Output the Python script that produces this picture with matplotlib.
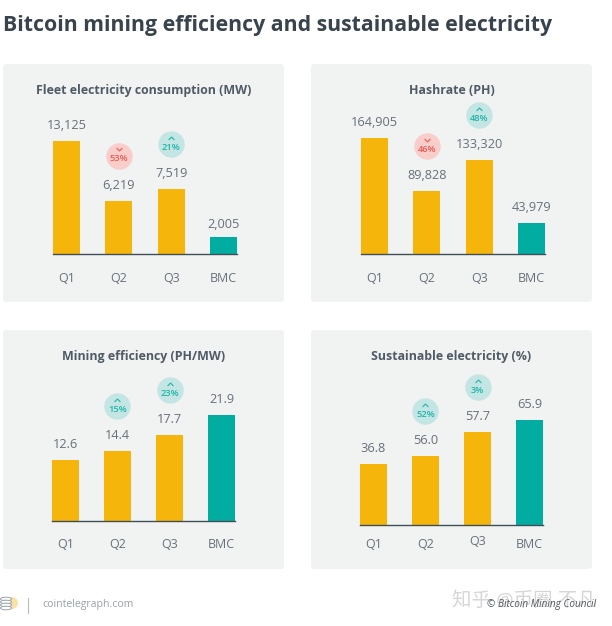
import matplotlib
matplotlib.use('Agg')
import matplotlib.pyplot as plt
from matplotlib.patches import FancyBboxPatch, Circle, Ellipse
from matplotlib.path import Path
from matplotlib.transforms import offset_copy, ScaledTranslation

plt.rcParams['font.family'] = ['Open Sans', 'Noto Sans CJK SC', 'DejaVu Sans']

W, H = 612, 626

categories = ['Q1', 'Q2', 'Q3', 'BMC']

fleet_values = [13125, 6219, 7519, 2005]
fleet_labels = ['13,125', '6,219', '7,519', '2,005']
fleet_changes = [None, '53%', '21%', None]
fleet_dirs = [None, 'down', 'up', None]

hash_values = [164905, 89828, 133320, 43979]
hash_labels = ['164,905', '89,828', '133,320', '43,979']
hash_changes = [None, '46%', '48%', None]
hash_dirs = [None, 'down', 'up', None]

eff_values = [12.6, 14.4, 17.7, 21.9]
eff_labels = ['12.6', '14.4', '17.7', '21.9']
eff_changes = [None, '15%', '23%', None]
eff_dirs = [None, 'up', 'up', None]

# the published bars here are not to scale with their labels, heights read off the picture
sust_values = [38.3, 43.3, 58.4, 65.9]
sust_labels = ['36.8', '56.0', '57.7', '65.9']
sust_changes = [None, '52%', '3%', None]
sust_dirs = [None, 'up', 'up', None]

YELLOW = '#f5b50a'
TEAL = '#00ada0'
PANEL = '#f1f2f2'
TITLE_C = '#4f5b66'
TEXT_C = '#67717a'
BASE_C = '#3f4f57'

fig = plt.figure(figsize=(W / 100, H / 100), dpi=100)


def px_axes(x0, y0, x1, y1):
    # pixel box measured from the top left of the picture
    return fig.add_axes([x0 / W, 1 - y1 / H, (x1 - x0) / W, (y1 - y0) / H])


def draw_panel(box, bars, title, values, labels, changes, dirs, top_px, tick_pad=12.5,
               label_drop=None, tick_lift=None):
    x0, y0, x1, y1 = box
    fig.add_artist(FancyBboxPatch((x0 / W, 1 - y1 / H), (x1 - x0) / W, (y1 - y0) / H,
                                  boxstyle='round,pad=0,rounding_size=0.006',
                                  transform=fig.transFigure, fc=PANEL, ec='none', zorder=-1))
    fig.text((x0 + x1) / 2 / W, 1 - (y0 + 26.5) / H, title, ha='center', va='center',
             fontsize=8.9, fontweight='bold', color=TITLE_C)

    bx0, bx1, base = bars
    ax = px_axes(bx0, base - top_px, bx1, base)
    ax.patch.set_alpha(0)
    ax.bar(range(4), values, width=0.51, color=[YELLOW, YELLOW, YELLOW, TEAL])
    ax.set_xlim(-0.255, 3.255)
    ax.set_ylim(0, max(values))
    ax.set_yticks([])
    for s in ['top', 'left', 'right']:
        ax.spines[s].set_visible(False)
    ax.spines['bottom'].set_color(BASE_C)
    ax.spines['bottom'].set_linewidth(1.0)
    ax.set_xticks(range(4))
    ax.set_xticklabels(categories, fontsize=9, color=TEXT_C)
    ax.tick_params(axis='x', length=0, pad=tick_pad)
    if tick_lift:
        # one label sits higher than the others in the original
        for i, pts in tick_lift.items():
            lab = ax.get_xticklabels()[i]
            lab.set_transform(lab.get_transform() + ScaledTranslation(0, pts / 72, fig.dpi_scale_trans))

    for i, v in enumerate(values):
        dy = 6.5 - (label_drop or {}).get(i, 0)
        ax.annotate(labels[i], (i, v), xytext=(0, dy), textcoords='offset points',
                    ha='center', va='bottom', fontsize=9.2, color=TEXT_C, annotation_clip=False)
        if changes[i] is None:
            continue
        up = dirs[i] == 'up'
        fc = '#c3e5e4' if up else '#f8cdca'
        tc = '#1fb5aa' if up else '#ec5a55'
        bub = offset_copy(ax.transData, fig=fig, x=0, y=45 * 0.72, units='points')
        ax.plot([i], [v], 'o', ms=19, mfc=fc, mec='none', transform=bub, clip_on=False, zorder=3)
        ax.annotate(changes[i], (i, v), xytext=(0, 45 * 0.72 - 2.2), textcoords='offset points',
                    ha='center', va='center', fontsize=6.7, fontweight='semibold', color=tc,
                    annotation_clip=False, zorder=4)
        tip = 1 if up else -1
        chev = Path([(-1, -tip * 0.5), (0, tip * 0.5), (1, -tip * 0.5)])
        mark = offset_copy(ax.transData, fig=fig, x=0, y=45 * 0.72 + 4.6, units='points')
        ax.plot([i], [v], marker=chev, ms=4.2, mfc='none', mec=tc, mew=0.8, transform=mark,
                clip_on=False, zorder=4, ls='none')


fig.text(3 / W, 1 - 25 / H, 'Bitcoin mining efficiency and sustainable electricity',
         ha='left', va='center', fontsize=15.3, fontweight='bold', color='#39434d')

draw_panel((3, 64, 284, 302), (53, 237, 254.5), 'Fleet electricity consumption (MW)',
           fleet_values, fleet_labels, fleet_changes, fleet_dirs, 113.5, label_drop={3: 2})
draw_panel((311, 64, 592, 302), (361, 545, 254.5), 'Hashrate (PH)',
           hash_values, hash_labels, hash_changes, hash_dirs, 116.5)
draw_panel((3, 330, 284, 569), (52, 235, 521), 'Mining efficiency (PH/MW)',
           eff_values, eff_labels, eff_changes, eff_dirs, 106)
draw_panel((311, 330, 592, 569), (360, 543, 525), 'Sustainable electricity (%)',
           sust_values, sust_labels, sust_changes, sust_dirs, 105, tick_pad=9.5, tick_lift={2: 2})

# footer
logo = px_axes(0, 594, 22, 616)
logo.set_xlim(0, 22)
logo.set_ylim(22, 0)
logo.axis('off')
logo.add_patch(Circle((12, 9), 6, fc='#f7e3a8', ec='none'))
for yy in [5, 8, 11, 14]:
    logo.add_patch(Ellipse((6, yy), 11, 3.6, fc='#ffffff', ec='#9aa3a8', lw=0.7))

fig.add_artist(plt.Line2D([28 / W, 28 / W], [1 - 598 / H, 1 - 613 / H], color='#b5bcc0', lw=0.8))
fig.text(42 / W, 1 - 604 / H, 'cointelegraph.com', ha='left', va='center', fontsize=7.6, color='#98a2a9')
fig.text(596 / W, 1 - 604 / H, '© Bitcoin Mining Council', ha='right', va='center', fontsize=7.2,
         style='italic', color='#4a545c')
fig.text(452 / W, 1 - 601 / H, '知乎 @币圈 不凡', ha='left', va='center', fontsize=14,
         color='#8a8a8a', alpha=0.35)

fig.savefig('out.png', dpi=100, facecolor='white')
